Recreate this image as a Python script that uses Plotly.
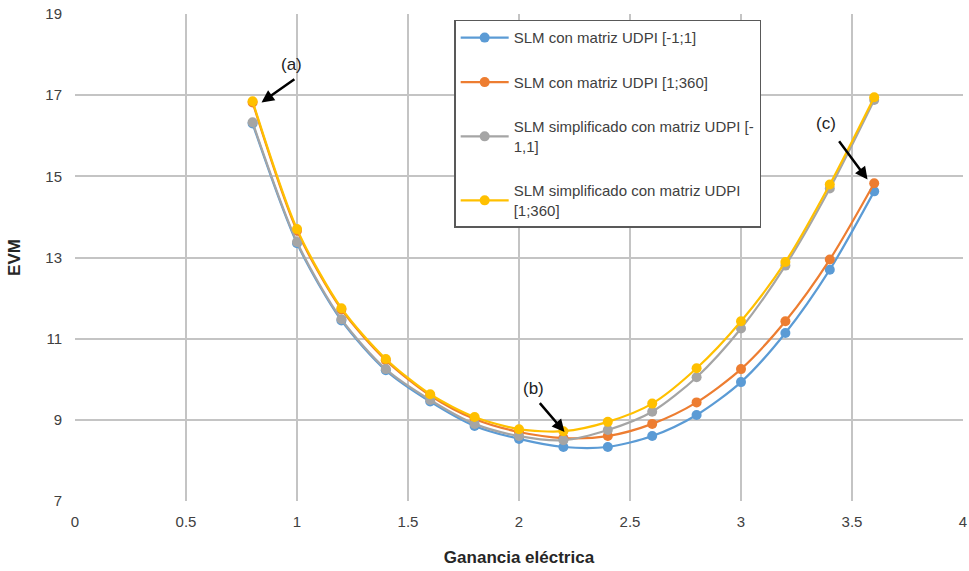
import plotly.graph_objects as go

ganancia = [0.8, 1.0, 1.2, 1.4, 1.6, 1.8, 2.0, 2.2, 2.4, 2.6, 2.8, 3.0, 3.2, 3.4, 3.6]

evm_slm_m1_1 = [16.30, 13.35, 11.45, 10.22, 9.45, 8.85, 8.53, 8.33, 8.33, 8.60, 9.12, 9.93, 11.14, 12.70, 14.63]
evm_slm_1_360 = [16.82, 13.66, 11.72, 10.47, 9.60, 9.02, 8.70, 8.55, 8.60, 8.90, 9.43, 10.25, 11.43, 12.95, 14.83]
evm_simp_m1_1 = [16.33, 13.38, 11.48, 10.25, 9.49, 8.90, 8.60, 8.50, 8.75, 9.20, 10.05, 11.25, 12.80, 14.70, 16.88]
evm_simp_1_360 = [16.85, 13.70, 11.75, 10.50, 9.63, 9.07, 8.77, 8.72, 8.95, 9.40, 10.27, 11.43, 12.89, 14.80, 16.95]

series_names = [
    "SLM con matriz UDPI [-1;1]",
    "SLM con matriz UDPI [1;360]",
    "SLM simplificado con matriz UDPI [-<br>1,1]",
    "SLM simplificado con matriz UDPI<br>[1;360]",
]
series_values = [evm_slm_m1_1, evm_slm_1_360, evm_simp_m1_1, evm_simp_1_360]
colors = ["#5B9BD5", "#ED7D31", "#A5A5A5", "#FFC000"]

x_ticks = [0, 0.5, 1, 1.5, 2, 2.5, 3, 3.5, 4]
x_tick_labels = ["0", "0.5", "1", "1.5", "2", "2.5", "3", "3.5", "4"]
y_ticks = [7, 9, 11, 13, 15, 17, 19]

fig = go.Figure()
for i, (name, vals, col) in enumerate(zip(series_names, series_values, colors)):
    fig.add_trace(go.Scatter(
        x=ganancia, y=vals, name=name, mode="lines+markers",
        line=dict(color=col, width=2.2, shape="spline", smoothing=0.8),
        marker=dict(color=col, size=10),
        legendgroup=f"g{i}",
    ))

font_family = "Liberation Sans, Arial, sans-serif"

def arrow(head, tail, label, label_pos):
    fig.add_annotation(x=head[0], y=head[1], ax=tail[0], ay=tail[1],
                       xref="x", yref="y", axref="x", ayref="y",
                       showarrow=True, arrowhead=2, arrowsize=1, arrowwidth=2.5,
                       arrowcolor="black", text="")
    fig.add_annotation(x=label_pos[0], y=label_pos[1], xref="x", yref="y",
                       text=label, showarrow=False,
                       font=dict(size=17, color="#222", family=font_family))

arrow((0.84, 16.82), (0.995, 17.42), "(a)", (0.975, 17.75))
arrow((2.205, 8.70), (2.088, 9.45), "(b)", (2.065, 9.78))
arrow((3.57, 14.92), (3.437, 15.90), "(c)", (3.385, 16.3))

fig.update_layout(
    width=969, height=571,
    margin=dict(l=75, r=6, t=14, b=70),
    paper_bgcolor="white", plot_bgcolor="white",
    font=dict(family=font_family, size=15, color="#404040"),
    showlegend=True,
    legend=dict(
        x=0.427, y=0.988, xanchor="left", yanchor="top",
        bgcolor="white", bordercolor="#595959", borderwidth=1.5,
        font=dict(size=15, color="#404040"),
        tracegroupgap=22, itemwidth=48,
    ),
    xaxis=dict(
        range=[0, 4], tickvals=x_ticks, ticktext=x_tick_labels,
        showgrid=True, gridcolor="#C4C4C4", gridwidth=1.5,
        zeroline=False, showline=False, ticks="", automargin=False,
        ticklabelstandoff=10,
        title=dict(text="<b>Ganancia eléctrica</b>", font=dict(size=17, color="#262626"), standoff=22),
    ),
    yaxis=dict(
        range=[7, 19], tickvals=y_ticks,
        showgrid=True, gridcolor="#C4C4C4", gridwidth=1.5,
        zeroline=False, showline=False, ticks="", automargin=False,
        ticklabelstandoff=12,
        title=dict(text="<b>EVM</b>", font=dict(size=17, color="#262626"), standoff=20),
    ),
)

fig.write_html(
    "out.html",
    config={"displayModeBar": False},
    post_script="document.body.style.margin='0';document.body.style.overflow='hidden';",
)
